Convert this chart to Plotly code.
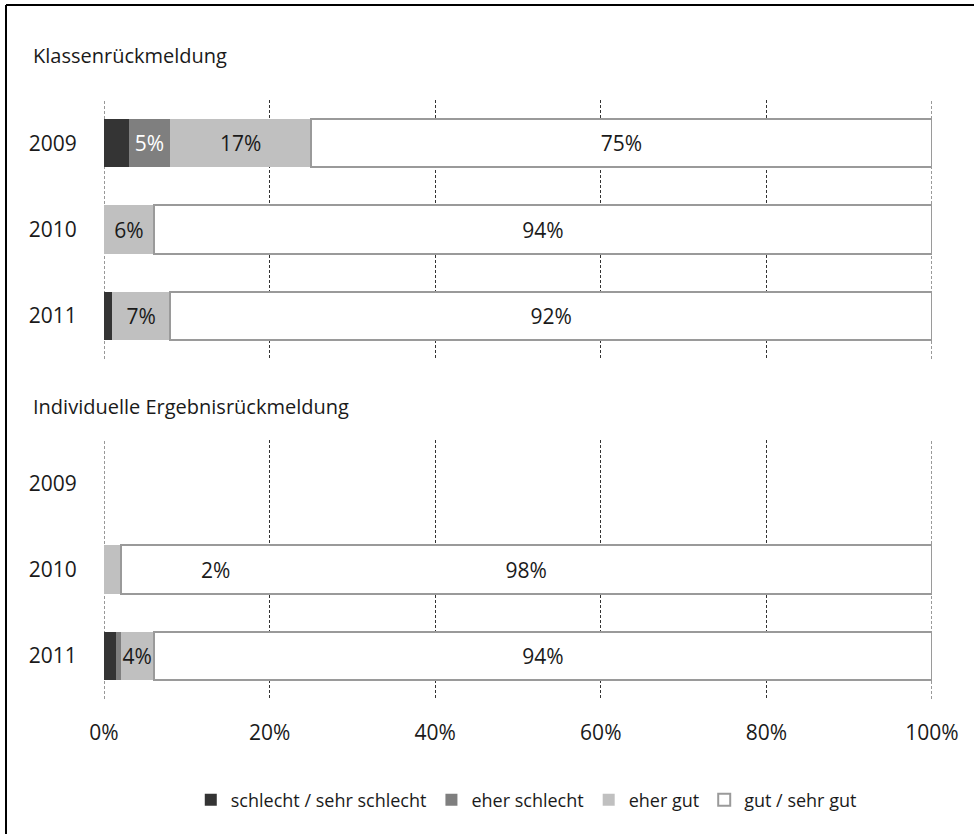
import plotly.graph_objects as go

# Response shares (%) per year, stacked from worst to best rating
years = ["2009", "2010", "2011"]
categories = ["schlecht / sehr schlecht", "eher schlecht", "eher gut", "gut / sehr gut"]

klassen_schlecht = [3, 0, 1]
klassen_eher_schlecht = [5, 0, 0]
klassen_eher_gut = [17, 6, 7]
klassen_gut = [75, 94, 92]

# no individual feedback was given in 2009
indiv_schlecht = [0, 0, 1.4]
indiv_eher_schlecht = [0, 0, 0.6]
indiv_eher_gut = [0, 2, 4]
indiv_gut = [0, 98, 94]

section_titles = ["Klassenrückmeldung", "Individuelle Ergebnisrückmeldung"]
x_ticks = [0, 20, 40, 60, 80, 100]
x_tick_text = [f"{t}%" for t in x_ticks]

fill_colors = ["#343434", "#7f7f7f", "#c0c0c0", "#ffffff"]
text_colors = ["#ffffff", "#ffffff", "#1a1a1a", "#1a1a1a"]

W, H = 974, 834
L, R = 104, 42
FONT = "Open Sans, sans-serif"
GRID = dict(color="#333333", width=1, dash="3px,2px")


def py(pix):
    return 1 - pix / H


def px(pix):
    return (pix - L) / (W - L - R)


def label(v):
    return f"{v:g}%" if v >= 4 else ""


fig = go.Figure()

groups = [
    ([klassen_schlecht, klassen_eher_schlecht, klassen_eher_gut, klassen_gut], "x", "y", True),
    ([indiv_schlecht, indiv_eher_schlecht, indiv_eher_gut, indiv_gut], "x2", "y2", False),
]

for series, xa, ya, show in groups:
    for i, (name, vals) in enumerate(zip(categories, series)):
        is_gut = i == 3
        fig.add_trace(go.Bar(
            y=years,
            x=vals,
            orientation="h",
            name=name,
            xaxis=xa,
            yaxis=ya,
            width=0.56,
            marker=dict(
                color=fill_colors[i],
                line=dict(
                    color="#9a9a9a",
                    width=[2 if (is_gut and v > 0) else 0 for v in vals],
                ),
            ),
            text=[label(v) for v in vals],
            textposition="inside",
            insidetextanchor="middle",
            textangle=0,
            constraintext="none",
            textfont=dict(family=FONT, size=21, color=text_colors[i]),
            showlegend=show,
            hoverinfo="skip",
        ))
    # dashed grid lines at the two range ends, which the axis grid leaves out
    for t in (x_ticks[0], x_ticks[-1]):
        fig.add_shape(type="line", xref=xa, yref=f"{ya} domain", x0=t, x1=t, y0=0, y1=1,
                      line=GRID, layer="below")

common_x = dict(
    range=[0, 100],
    tickvals=x_ticks,
    ticktext=x_tick_text,
    showgrid=True,
    gridcolor=GRID["color"],
    gridwidth=GRID["width"],
    griddash=GRID["dash"],
    zeroline=False,
    showline=False,
    tickfont=dict(family=FONT, size=21, color="#1a1a1a"),
)
common_y = dict(
    type="category",
    categoryorder="array",
    categoryarray=years,
    autorange="reversed",
    showgrid=False,
    zeroline=False,
    showline=False,
    ticks="outside",
    ticklen=22,
    tickcolor="rgba(0,0,0,0)",
    tickfont=dict(family=FONT, size=21, color="#1a1a1a"),
)

fig.update_layout(
    width=W,
    height=H,
    margin=dict(l=L, r=R, t=0, b=0, autoexpand=False),
    paper_bgcolor="white",
    plot_bgcolor="white",
    barmode="stack",
    font=dict(family=FONT, color="#1a1a1a"),
    xaxis=dict(common_x, domain=[0, 1], anchor="y", showticklabels=False, ticks=""),
    yaxis=dict(common_y, domain=[py(359), py(100)], anchor="x"),
    xaxis2=dict(common_x, domain=[0, 1], anchor="y2", ticks="outside", ticklen=15,
                tickcolor="rgba(0,0,0,0)"),
    yaxis2=dict(common_y, domain=[py(699), py(440)], anchor="x2"),
    legend=dict(
        orientation="h",
        x=0.51,
        xanchor="center",
        y=py(800),
        yanchor="middle",
        traceorder="normal",
        font=dict(family=FONT, size=18, color="#1a1a1a"),
        itemwidth=30,
        bgcolor="rgba(0,0,0,0)",
    ),
)

# Section headings
for title, ypix in zip(section_titles, [55, 406]):
    fig.add_annotation(
        text=title, xref="paper", yref="paper", x=px(31), y=py(ypix),
        xanchor="left", yanchor="middle", showarrow=False,
        font=dict(family=FONT, size=20, color="#1a1a1a"),
    )

# Label of the narrow 2010 "eher gut" segment, set beside the bar
fig.add_annotation(
    text=f"{indiv_eher_gut[1]:g}%", xref="x2", yref="y2", x=13.5, y=1,
    showarrow=False, font=dict(family=FONT, size=21, color="#1a1a1a"),
)

# Frame along the top and left edge
fig.add_shape(type="line", xref="paper", yref="paper", x0=px(6), x1=px(W + 5), y0=py(5), y1=py(5),
              line=dict(color="black", width=2))
fig.add_shape(type="line", xref="paper", yref="paper", x0=px(6), x1=px(6), y0=py(5), y1=py(H + 5),
              line=dict(color="black", width=2))

fig.write_html("out.html")
